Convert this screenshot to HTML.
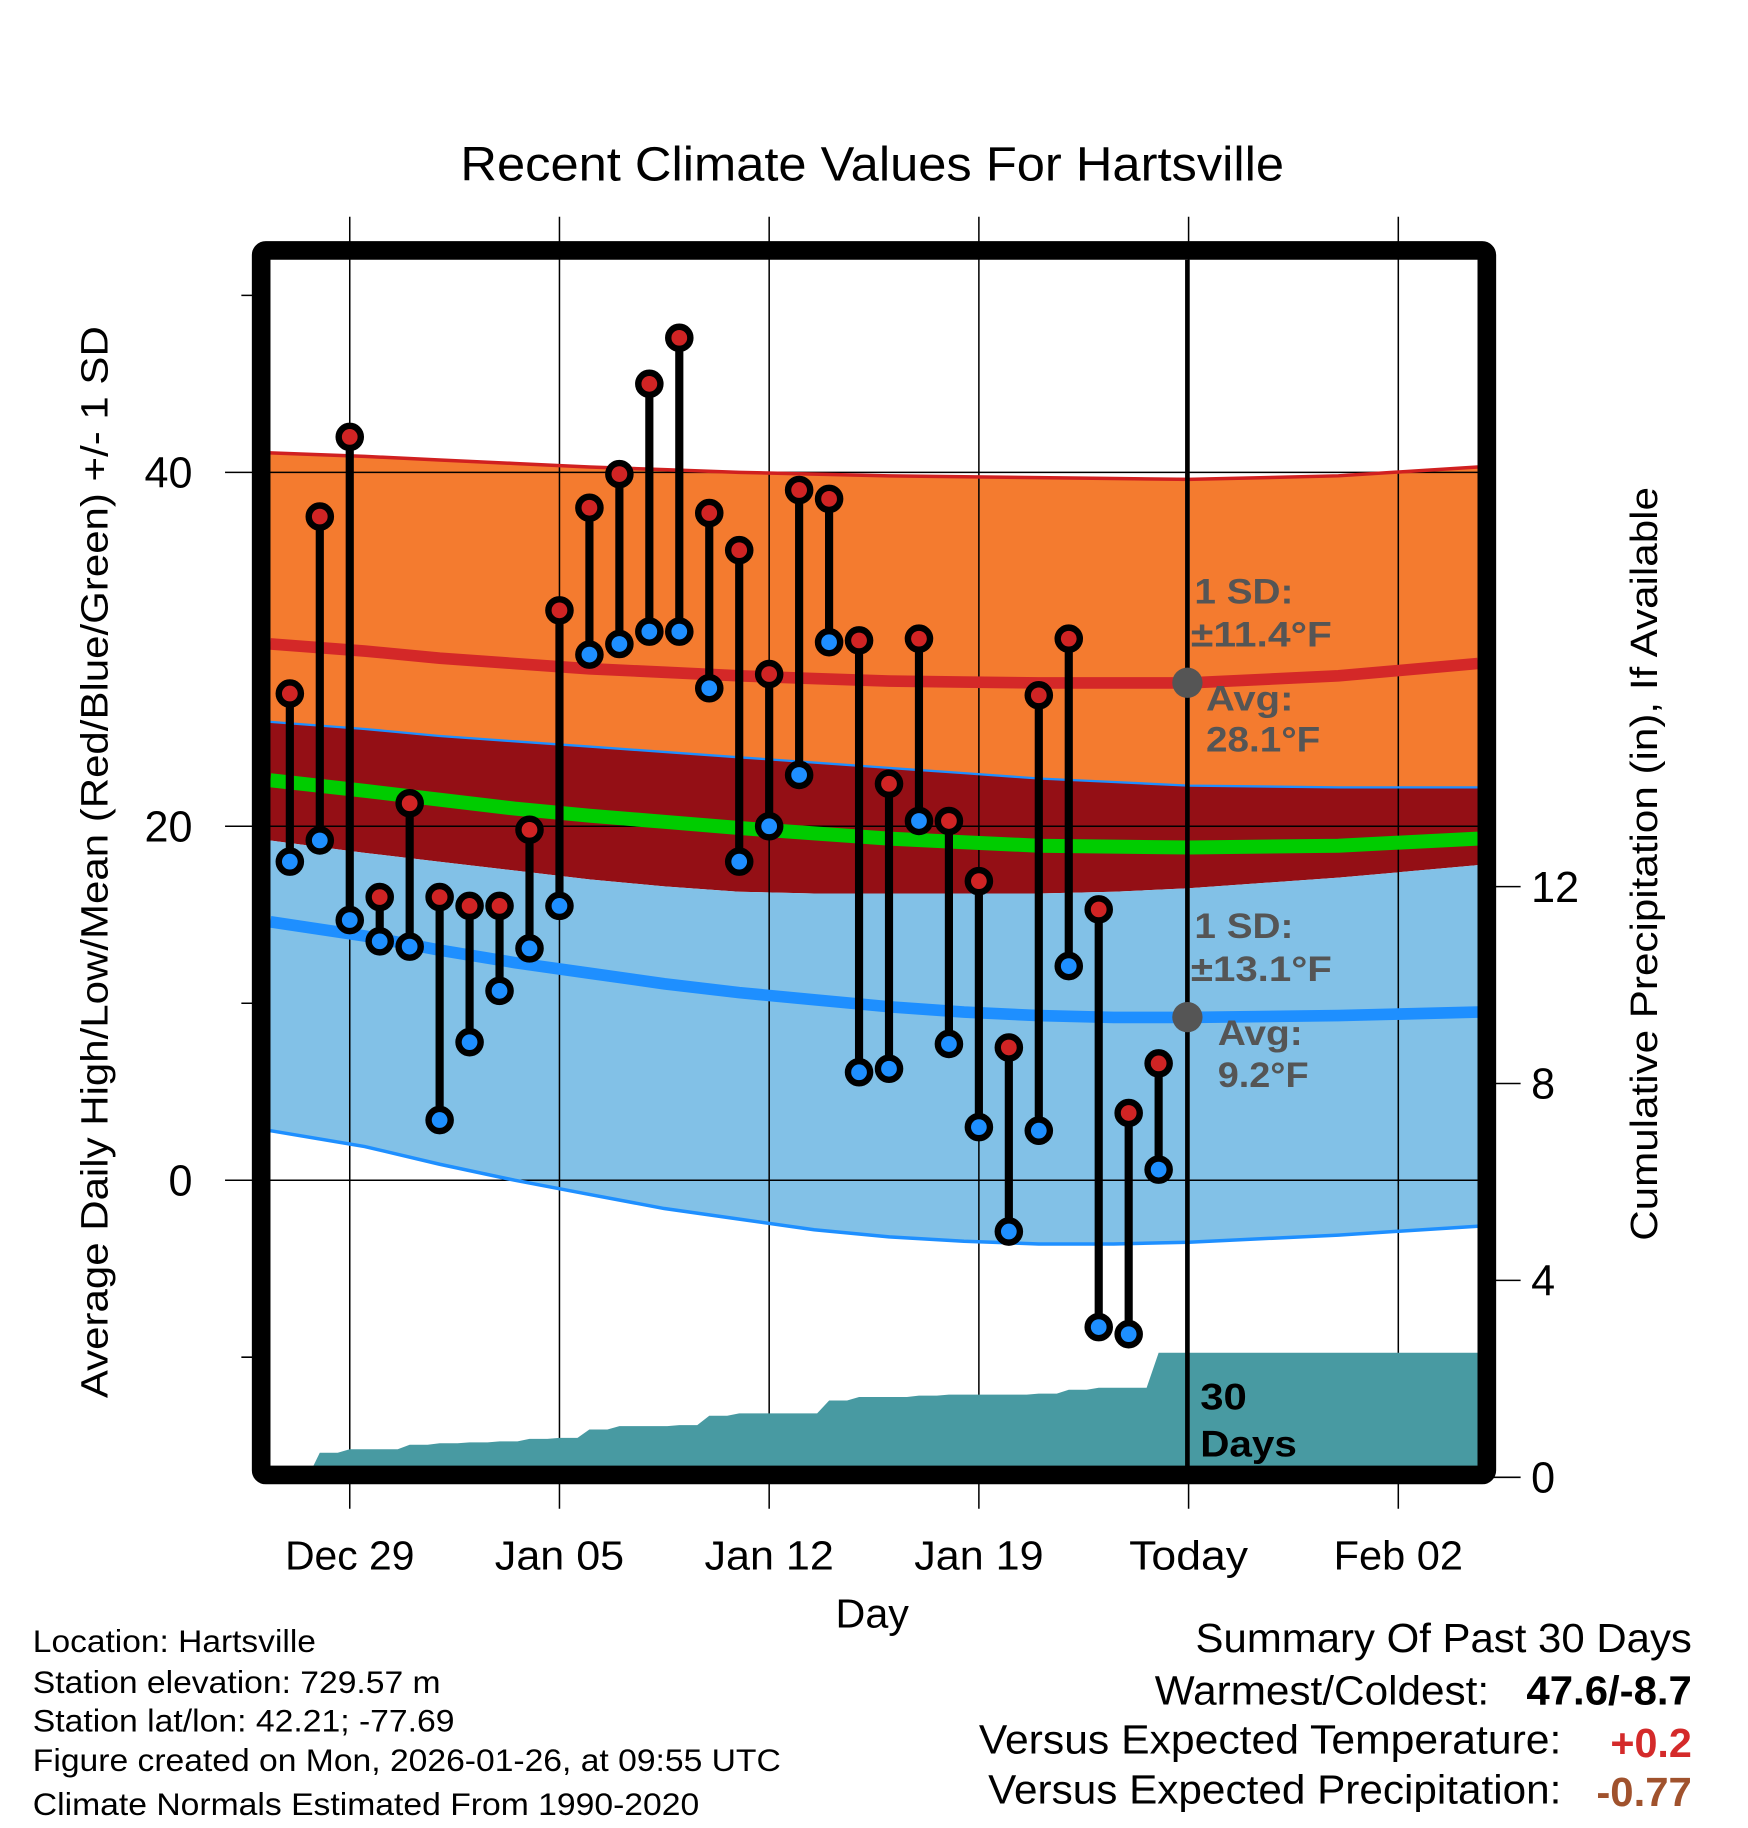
<!DOCTYPE html>
<html><head><meta charset="utf-8"><style>html,body{margin:0;padding:0;background:#fff}svg{display:block}</style></head>
<body>
<svg id="chart" width="1748" height="1828" viewBox="0 0 1500 1569" xmlns="http://www.w3.org/2000/svg" font-family="Liberation Sans, sans-serif">
<rect width="1500" height="1569" fill="#fff"/>
<text x="395" y="155" font-size="41" textLength="707" lengthAdjust="spacingAndGlyphs">Recent Climate Values For Hartsville</text>
<g id="fills"></g><g id="grid"></g><g id="precip"></g><g id="lines"></g><g id="marks"></g>
<g id="frame"></g>
<text transform="translate(92,1200) rotate(-90)" font-size="33" textLength="920" lengthAdjust="spacingAndGlyphs">Average Daily High/Low/Mean (Red/Blue/Green) +/- 1 SD</text>
<text transform="translate(1422,1065) rotate(-90)" font-size="33" textLength="647" lengthAdjust="spacingAndGlyphs">Cumulative Precipitation (in), If Available</text>
<text x="717" y="1397" font-size="35" textLength="63" lengthAdjust="spacingAndGlyphs">Day</text>
<g font-size="30" font-weight="bold" fill="#555" lengthAdjust="spacingAndGlyphs">
<text x="1025" y="518" textLength="85" lengthAdjust="spacingAndGlyphs">1 SD:</text><text x="1022" y="555" textLength="121" lengthAdjust="spacingAndGlyphs">±11.4°F</text>
<text x="1035" y="610" textLength="75" lengthAdjust="spacingAndGlyphs">Avg:</text><text x="1035" y="645" textLength="98" lengthAdjust="spacingAndGlyphs">28.1°F</text></g>
<g font-size="30" font-weight="bold" fill="#555">
<text x="1025" y="805" textLength="85" lengthAdjust="spacingAndGlyphs">1 SD:</text><text x="1022" y="842" textLength="121" lengthAdjust="spacingAndGlyphs">±13.1°F</text>
<text x="1045" y="897" textLength="73" lengthAdjust="spacingAndGlyphs">Avg:</text><text x="1045" y="933" textLength="78" lengthAdjust="spacingAndGlyphs">9.2°F</text></g>
<circle cx="1019" cy="586" r="13" fill="#555"/>
<circle cx="1019" cy="873" r="13" fill="#555"/>
<g font-size="32" font-weight="bold"><text x="1030" y="1210" textLength="40" lengthAdjust="spacingAndGlyphs">30</text><text x="1030" y="1250" textLength="83" lengthAdjust="spacingAndGlyphs">Days</text></g>
<g font-size="27">
<text x="28" y="1418" textLength="243" lengthAdjust="spacingAndGlyphs">Location: Hartsville</text>
<text x="28" y="1453" textLength="350" lengthAdjust="spacingAndGlyphs">Station elevation: 729.57 m</text>
<text x="28" y="1486" textLength="362" lengthAdjust="spacingAndGlyphs">Station lat/lon: 42.21; -77.69</text>
<text x="28" y="1520" textLength="642" lengthAdjust="spacingAndGlyphs">Figure created on Mon, 2026-01-26, at 09:55 UTC</text>
<text x="28" y="1558" textLength="572" lengthAdjust="spacingAndGlyphs">Climate Normals Estimated From 1990-2020</text></g>
<g font-size="35">
<text x="1026" y="1418" textLength="426" lengthAdjust="spacingAndGlyphs">Summary Of Past 30 Days</text>
<text x="991" y="1463" textLength="287" lengthAdjust="spacingAndGlyphs">Warmest/Coldest:</text><text x="1310" y="1463" font-weight="bold" textLength="142" lengthAdjust="spacingAndGlyphs">47.6/-8.7</text>
<text x="840" y="1505" textLength="500" lengthAdjust="spacingAndGlyphs">Versus Expected Temperature:</text><text x="1382" y="1508" font-weight="bold" fill="#d42a2a" textLength="70" lengthAdjust="spacingAndGlyphs">+0.2</text>
<text x="848" y="1548" textLength="492" lengthAdjust="spacingAndGlyphs">Versus Expected Precipitation:</text><text x="1370" y="1550" font-weight="bold" fill="#a0522d" textLength="82" lengthAdjust="spacingAndGlyphs">-0.77</text></g>
</svg>
<script>
const highs=[27.5,37.5,42,16,21.3,16,15.5,15.5,19.8,32.2,38,39.9,45,47.6,37.7,35.6,28.6,39,38.5,30.5,22.4,30.6,20.3,16.9,7.5,27.4,30.6,15.3,3.8,6.6];
const lows=[18,19.2,14.7,13.5,13.2,3.4,7.8,10.7,13.1,15.5,29.7,30.3,31,31,27.8,18,20,22.9,30.4,6.1,6.3,20.3,7.7,3,-2.9,2.8,12.1,-8.3,-8.7,0.6];
const precip=[0,0.5,0.57,0.57,0.66,0.69,0.71,0.73,0.78,0.8,0.97,1.04,1.04,1.06,1.25,1.3,1.3,1.3,1.56,1.63,1.63,1.66,1.68,1.68,1.68,1.7,1.78,1.82,1.82,2.53];
const normDays=[-0.65,2.5,5,7.5,10,12.5,15,17.5,20,22.5,25,27.5,30,35,39.65];
const highSD=[41.1,40.9,40.7,40.5,40.3,40.15,40.0,39.9,39.8,39.75,39.7,39.65,39.6,39.8,40.3];
const highAvg=[30.3,29.9,29.5,29.2,28.9,28.7,28.5,28.35,28.2,28.15,28.1,28.1,28.1,28.5,29.2];
const meanUp=[25.9,25.5,25.1,24.8,24.5,24.2,23.9,23.6,23.3,23.0,22.7,22.5,22.3,22.2,22.2];
const meanAvg=[22.6,22.0,21.5,21.0,20.6,20.25,19.9,19.6,19.3,19.1,18.9,18.85,18.8,18.9,19.3];
const meanLo=[19.2,18.5,18.0,17.5,17.0,16.6,16.3,16.2,16.2,16.2,16.2,16.3,16.5,17.1,17.8];
const lowAvg=[14.6,13.8,13.0,12.3,11.7,11.1,10.6,10.2,9.8,9.5,9.3,9.2,9.2,9.3,9.5];
const lowSD=[2.8,1.9,0.9,0.0,-0.8,-1.6,-2.2,-2.8,-3.2,-3.45,-3.6,-3.6,-3.5,-3.1,-2.6];
const xTickDays=[2,9,16,23,30,37];
const xTickLabels=["Dec 29","Jan 05","Jan 12","Jan 19","Today","Feb 02"];
const yTicks=[0,20,40];
const yMinor=[-10,10,50];
const y2Ticks=[0,4,8,12];

const NS="http://www.w3.org/2000/svg";
const X=d=>248.6+25.714*d;
const Y=v=>1013-15.19*v;
const Y2=p=>1268-42.25*p;
const L=232,R=1268,T=223,B=1259;
function mk(tag,attrs,parent){const e=document.createElementNS(NS,tag);for(const k in attrs)e.setAttribute(k,attrs[k]);parent.appendChild(e);return e;}
const g=id=>document.getElementById(id);
function pts(arr){return normDays.map((d,i)=>X(d).toFixed(1)+","+Y(arr[i]).toFixed(1));}
function band(top,bot,color,name){
  const p=pts(top).concat(pts(bot).reverse()).join(" ");
  const e=mk("polygon",{points:p,fill:color},g("fills"));
  
  
}
band(highSD,meanUp,"#f47b2f","high-sd-band");
band(meanUp,meanLo,"#940f15","mean-sd-band");
band(meanLo,lowSD,"#82c1e7","low-sd-band");
for(let i=0;i<xTickDays.length;i++){
  const x=X(xTickDays[i]);
  const l=mk("line",{x1:x,x2:x,y1:186,y2:1295,stroke:"#000","stroke-width":1.3},g("grid"));
  
  
  const w=xTickLabels[i]==="Today"?102:111;
  const t=mk("text",{x:x-w/2,y:1347,"font-size":35,textLength:w,lengthAdjust:"spacingAndGlyphs"},g("frame"));
  t.textContent=xTickLabels[i];
  
  
}
for(const v of yTicks){
  const y=Y(v);
  const l=mk("line",{x1:193,x2:R,y1:y,y2:y,stroke:"#000","stroke-width":1.3},g("grid"));
  
  
  const t=mk("text",{x:165,y:y+13,"font-size":37,"text-anchor":"end"},g("frame"));
  t.textContent=v;
  
  
}
for(const v of yMinor){
  const y=Y(v);
  const l=mk("line",{x1:207,x2:224,y1:y,y2:y,stroke:"#000","stroke-width":1.3},g("frame"));
  
  
}
for(const p of y2Ticks){
  const y=Y2(p);
  const l=mk("line",{x1:1276,x2:1305,y1:y,y2:y,stroke:"#000","stroke-width":1.3},g("frame"));
  
  
  const t=mk("text",{x:1314,y:y+13,"font-size":37},g("frame"));
  t.textContent=p;
  
  
}
{
  let p=[X(0.37).toFixed(1)+","+B];
  for(let i=1;i<precip.length;i++){p.push(X(i-0.4).toFixed(1)+","+Y2(precip[i-1]).toFixed(1));p.push(X(i).toFixed(1)+","+Y2(precip[i]).toFixed(1));}
  p.push(R+","+Y2(precip[precip.length-1]).toFixed(1));p.push(R+","+B);
  const e=mk("polygon",{points:p.join(" "),fill:"#489aa2"},g("precip"));
  
  
}
function line(arr,color,w,name){
  const e=mk("polyline",{points:pts(arr).join(" "),fill:"none",stroke:color,"stroke-width":w},g("lines"));
  
  
}
line(highSD,"#d02020",3,"high-sd-line");
line(highAvg,"#d42828",10,"high-avg-line");
line(meanUp,"#1e8fff",2,"mean-upper-line");
line(meanAvg,"#00cc00",12,"mean-avg-line");
line(lowAvg,"#1e8fff",10,"low-avg-line");
line(lowSD,"#1e8fff",3,"low-sd-line");
{const e=mk("line",{x1:1019,x2:1019,y1:T,y2:B,stroke:"#000","stroke-width":4},g("lines"));

}
for(let i=0;i<highs.length;i++){
  const x=X(i);
  const s=mk("line",{x1:x,x2:x,y1:Y(highs[i]),y2:Y(lows[i]),stroke:"#000","stroke-width":7},g("marks"));
  
  
  const h=mk("circle",{cx:x,cy:Y(highs[i]),r:9.5,fill:"#d02424",stroke:"#000","stroke-width":5.5},g("marks"));
  
  
  const lo=mk("circle",{cx:x,cy:Y(lows[i]),r:9.5,fill:"#1e8fff",stroke:"#000","stroke-width":5.5},g("marks"));
  
  
}
{const f=mk("rect",{x:224,y:215,width:1052,height:1051,fill:"none",stroke:"#000","stroke-width":16,rx:4},g("frame"));

}
</script>
</body></html>
